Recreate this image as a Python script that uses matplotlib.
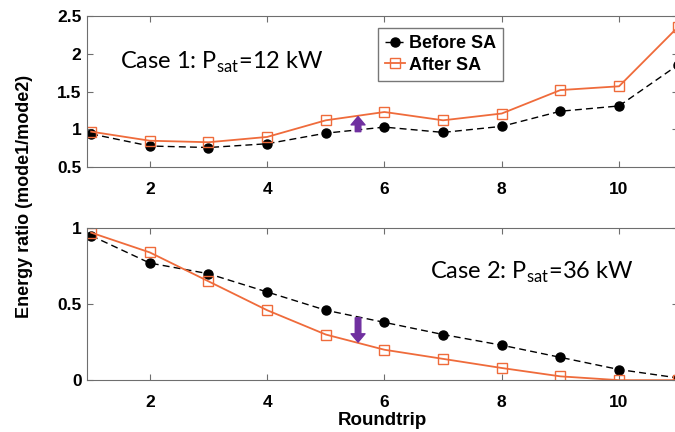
import numpy as np
import matplotlib
matplotlib.use("Agg")
import matplotlib.pyplot as plt

# Datos
roundtrip = [1, 2, 3, 4, 5, 6, 7, 8, 9, 10, 11]

case1_before = [0.94, 0.78, 0.76, 0.81, 0.95, 1.03, 0.96, 1.04, 1.24, 1.31, 1.85]
case1_after = [0.97, 0.85, 0.83, 0.90, 1.12, 1.23, 1.12, 1.21, 1.52, 1.57, 2.35]

case2_before = [0.95, 0.77, 0.70, 0.58, 0.46, 0.38, 0.30, 0.23, 0.15, 0.07, 0.015]
case2_after = [0.97, 0.84, 0.65, 0.46, 0.30, 0.20, 0.14, 0.08, 0.025, 0.0, 0.0]

orange = "#EF6B3B"
purple = "#7030A0"
spine_col = "#6e6e6e"

plt.rcParams["font.family"] = ["Liberation Sans", "DejaVu Sans"]

fig = plt.figure(figsize=(6.75, 4.32), dpi=100)
ax1 = fig.add_axes([0.129, 0.613, 0.875, 0.350])
ax2 = fig.add_axes([0.129, 0.120, 0.875, 0.352])


def style_axes(ax, yticks, ylim):
    ax.set_xlim(0.93, 11.0)
    ax.set_ylim(*ylim)
    ax.set_xticks([2, 4, 6, 8, 10])
    ax.set_yticks(yticks)
    ax.set_yticklabels([f"{t:g}" for t in yticks])
    ax.tick_params(direction="in", top=True, right=True, length=4,
                   labelsize=12.5, color=spine_col)
    ax.tick_params(axis="x", pad=11)
    ax.tick_params(axis="y", pad=4)
    for lab in ax.get_xticklabels() + ax.get_yticklabels():
        lab.set_fontweight("bold")
    for s in ax.spines.values():
        s.set_color(spine_col)


# Caso 1
ax1.plot(roundtrip, case1_before, "k--", marker="o", markersize=6.5, lw=1,
         dashes=(5, 3), label="Before SA")
ax1.plot(roundtrip, case1_after, color=orange, marker="s", markersize=7.5,
         markerfacecolor="none", lw=1.3, label="After SA")
style_axes(ax1, [0.5, 1, 1.5, 2, 2.5], (0.5, 2.5))
ax1.text(0.056, 0.69, "Case 1: P$_{\\mathregular{sat}}$=12 kW", transform=ax1.transAxes,
         fontsize=17, family="Lato", va="center")
leg = ax1.legend(loc="upper left", bbox_to_anchor=(0.493, 0.92), borderaxespad=0,
                 handlelength=1.1, handletextpad=0.2, borderpad=0.4,
                 labelspacing=0.25, fancybox=False, edgecolor="#555555",
                 prop={"weight": "bold", "size": 13})
leg.get_frame().set_linewidth(1.0)
ax1.annotate("", xy=(5.55, 1.17), xytext=(5.55, 0.97),
             arrowprops=dict(facecolor=purple, edgecolor=purple, width=4,
                             headwidth=10, headlength=6))

# Caso 2
ax2.plot(roundtrip, case2_before, "k--", marker="o", markersize=6.5, lw=1,
         dashes=(5, 3))
ax2.plot(roundtrip, case2_after, color=orange, marker="s", markersize=7.5,
         markerfacecolor="none", lw=1.3)
style_axes(ax2, [0, 0.5, 1], (0, 1))
ax2.text(0.58, 0.71, "Case 2: P$_{\\mathregular{sat}}$=36 kW", transform=ax2.transAxes,
         fontsize=17, family="Lato", va="center")
ax2.annotate("", xy=(5.55, 0.25), xytext=(5.55, 0.41),
             arrowprops=dict(facecolor=purple, edgecolor=purple, width=4,
                             headwidth=10, headlength=6))
ax2.set_xlabel("Roundtrip", fontsize=13.5, fontweight="bold", labelpad=1)

fig.text(0.037, 0.545, "Energy ratio (mode1/mode2)", rotation=90, fontsize=13,
         fontweight="bold", ha="center", va="center")

fig.savefig("out.png", dpi=100)
